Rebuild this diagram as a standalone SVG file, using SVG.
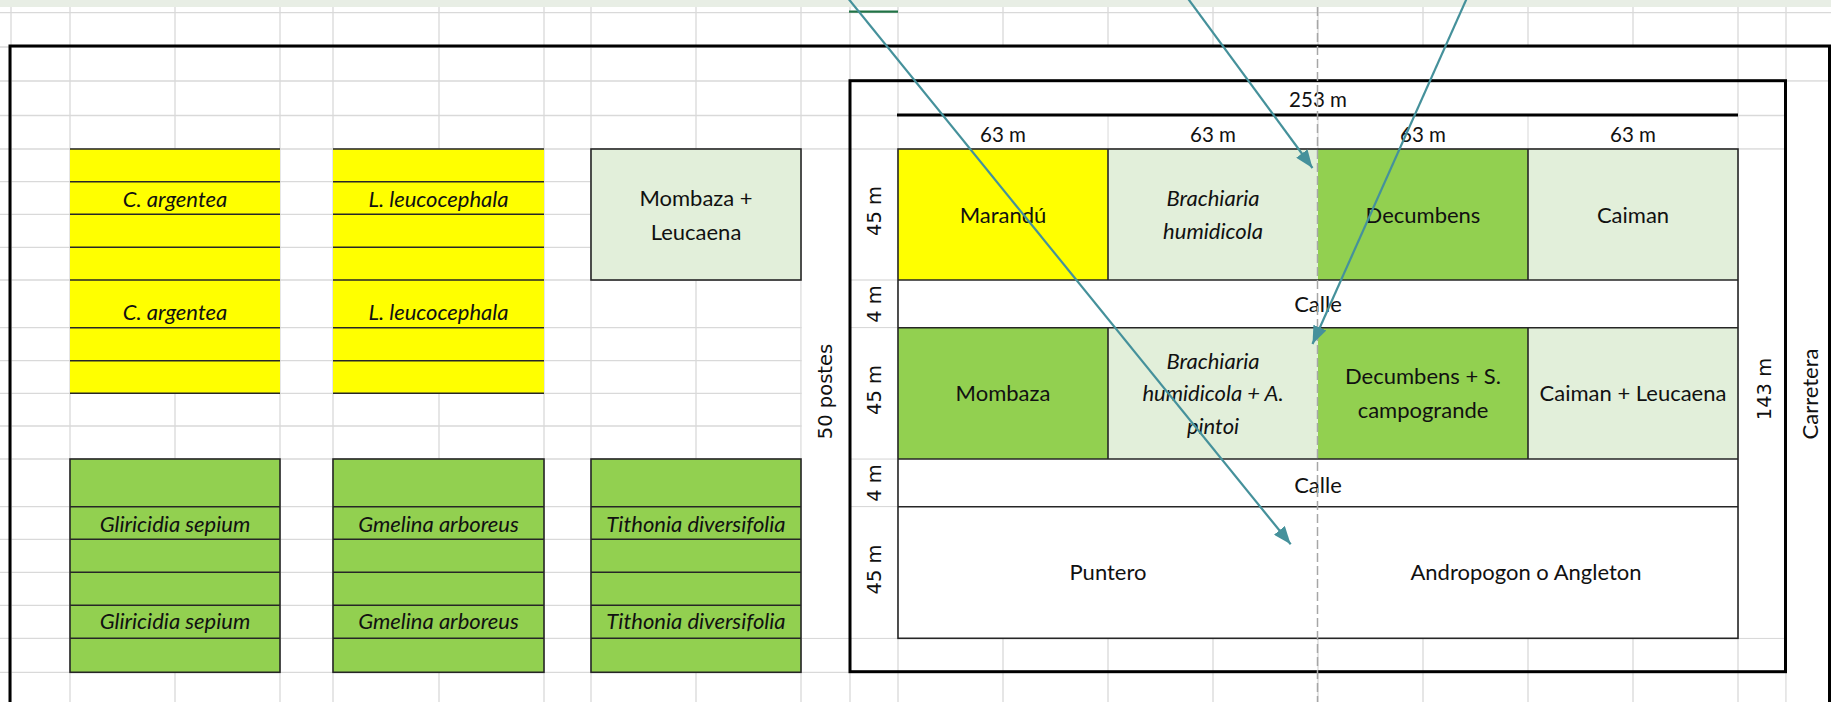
<svg xmlns="http://www.w3.org/2000/svg" width="1831" height="702" viewBox="0 0 1831 702">
<style>
.grid{stroke:#d9d9d9;stroke-width:1.3;fill:none}
.frame{fill:none;stroke:#000;stroke-width:3}
.bd{stroke:#262626;stroke-width:1.6;fill:none}
.w{fill:#fff}
.y{fill:#ffff00}
.g{fill:#92d050}
.lg{fill:#e2efda}
.t{font-family:Lato,"Liberation Sans",sans-serif;font-size:22px;fill:#111;text-anchor:middle}
.n{font-size:20.5px}
.i{font-style:italic}
.r{font-family:"DejaVu Sans","Liberation Sans",sans-serif;font-size:19.5px;fill:#111;text-anchor:middle}
.conn{stroke:#45919b;stroke-width:2.2;fill:none;marker-end:url(#ah)}
.dash{stroke:#a6a6a6;stroke-width:1.5;stroke-dasharray:9 4;fill:none}
</style>
<defs>
<marker id="ah" markerUnits="userSpaceOnUse" markerWidth="18" markerHeight="14" viewBox="0 0 18 14" refX="18" refY="7" orient="auto">
<path d="M0,0 L18,7 L0,14 z" fill="#45919b"/>
</marker>
</defs>
<rect x="0" y="0" width="1831" height="702" fill="#fff"/>
<rect x="0" y="0" width="1831" height="7" fill="#e8eee5"/>
<g id="grid">
<path class="grid" d="M11 7V702M70 7V702M175 7V702M280 7V702M333 7V702M439 7V702M544 7V702M591 7V702M696 7V702M801 7V702M850 7V702M898 7V702M1003 7V702M1108 7V702M1213 7V702M1318 7V702M1423 7V702M1528 7V702M1633 7V702M1738 7V702M1786 7V702"/>
<path class="grid" d="M0 12.7H1831M0 47H1831M0 81H1831M0 115.5H1831M0 149H1831M0 181.7H1831M0 214.3H1831M0 247.3H1831M0 280H1831M0 327.7H1831M0 360.7H1831M0 393.3H1831M0 426H1831M0 459H1831M0 506.7H1831M0 539.3H1831M0 572.3H1831M0 605.3H1831M0 638.3H1831M0 672.3H1831"/>
<line x1="849" y1="11.7" x2="898" y2="11.7" stroke="#217346" stroke-width="2.2"/>
</g>
<g id="merged-white">
<rect class="w" x="899" y="47.8" width="838" height="32.5"/>
<rect class="w" x="899" y="82" width="838" height="32.5"/>
<rect class="w" x="899" y="116.3" width="208.3" height="32"/>
<rect class="w" x="1108.8" y="116.3" width="208.4" height="32"/>
<rect class="w" x="1318.8" y="116.3" width="208.4" height="32"/>
<rect class="w" x="1528.8" y="116.3" width="208.4" height="32"/>
<rect class="w" x="851" y="150" width="46.2" height="129.2"/>
<rect class="w" x="851" y="280.8" width="46.2" height="46.2"/>
<rect class="w" x="851" y="328.5" width="46.2" height="129.8"/>
<rect class="w" x="851" y="459.8" width="46.2" height="46.2"/>
<rect class="w" x="851" y="507.5" width="46.2" height="130"/>
<rect class="w" x="801.8" y="149.8" width="47.4" height="487.8"/>
<rect class="w" x="1738.8" y="149.8" width="46.4" height="487.8"/>
<rect class="w" x="1786.8" y="81.8" width="44" height="620.2"/>
</g>
<g id="frames">
<rect class="frame" x="10" y="46" width="1819.5" height="700"/>
<rect class="frame" x="850" y="80.7" width="935.5" height="591"/>
<line x1="897" y1="115" x2="1738" y2="115" stroke="#000" stroke-width="3"/>
</g>
<g id="box-c-argentea">
<rect class="y" x="70" y="149" width="210" height="244.3"/>
<path class="bd" d="M70 149H280M70 181.7H280M70 214.3H280M70 247.3H280M70 280H280M70 327.7H280M70 360.7H280M70 393.3H280"/>
<text class="t i" x="175" y="207">C. argentea</text>
<text class="t i" x="175" y="320">C. argentea</text>
</g>
<g id="box-l-leucocephala">
<rect class="y" x="333" y="149" width="211" height="244.3"/>
<path class="bd" d="M333 149H544M333 181.7H544M333 214.3H544M333 247.3H544M333 280H544M333 327.7H544M333 360.7H544M333 393.3H544"/>
<text class="t i" x="438.5" y="207">L. leucocephala</text>
<text class="t i" x="438.5" y="320">L. leucocephala</text>
</g>
<g id="box-mombaza-leucaena">
<rect class="lg bd" x="591" y="149" width="210" height="131" stroke="#262626"/>
<text class="t" x="696" y="205.5">Mombaza +</text>
<text class="t" x="696" y="239.5">Leucaena</text>
</g>
<g id="box-gliricidia">
<rect class="g" x="70" y="459" width="210" height="213.3"/>
<rect class="bd" x="70" y="459" width="210" height="213.3"/>
<path class="bd" d="M70 506.7H280M70 539.3H280M70 572.3H280M70 605.3H280M70 638.3H280"/>
<text class="t i" x="175" y="531.5">Gliricidia sepium</text>
<text class="t i" x="175" y="629">Gliricidia sepium</text>
</g>
<g id="box-gmelina">
<rect class="g" x="333" y="459" width="211" height="213.3"/>
<rect class="bd" x="333" y="459" width="211" height="213.3"/>
<path class="bd" d="M333 506.7H544M333 539.3H544M333 572.3H544M333 605.3H544M333 638.3H544"/>
<text class="t i" x="438.5" y="531.5">Gmelina arboreus</text>
<text class="t i" x="438.5" y="629">Gmelina arboreus</text>
</g>
<g id="box-tithonia">
<rect class="g" x="591" y="459" width="210" height="213.3"/>
<rect class="bd" x="591" y="459" width="210" height="213.3"/>
<path class="bd" d="M591 506.7H801M591 539.3H801M591 572.3H801M591 605.3H801M591 638.3H801"/>
<text class="t i" x="696" y="531.5">Tithonia diversifolia</text>
<text class="t i" x="696" y="629">Tithonia diversifolia</text>
</g>
<g id="dimensions">
<text class="t n" x="1318" y="107">253 m</text>
<text class="t n" x="1003" y="142">63 m</text>
<text class="t n" x="1213" y="142">63 m</text>
<text class="t n" x="1423" y="142">63 m</text>
<text class="t n" x="1633" y="142">63 m</text>
<text class="r" transform="translate(873.5 211) rotate(-90)" dy="0.36em">45 m</text>
<text class="r" transform="translate(873.5 304) rotate(-90)" dy="0.36em">4 m</text>
<text class="r" transform="translate(873.5 390) rotate(-90)" dy="0.36em">45 m</text>
<text class="r" transform="translate(873.5 483) rotate(-90)" dy="0.36em">4 m</text>
<text class="r" transform="translate(873.5 569.5) rotate(-90)" dy="0.36em">45 m</text>
<text class="r" transform="translate(825 391.5) rotate(-90)" dy="0.36em">50 postes</text>
<text class="r" transform="translate(1763.5 389) rotate(-90)" dy="0.36em">143 m</text>
<text class="t" transform="translate(1810 394) rotate(-90)" dy="0.36em">Carretera</text>
</g>
<g id="plot-marandu">
<rect class="y" x="898" y="149" width="210" height="131"/>
<text class="t" x="1003" y="222.5">Marandú</text>
</g>
<g id="plot-brachiaria">
<rect class="lg" x="1108" y="149" width="210" height="131"/>
<text class="t i" x="1213" y="205.8">Brachiaria</text>
<text class="t i" x="1213" y="239.2">humidicola</text>
</g>
<g id="plot-decumbens">
<rect class="g" x="1318" y="149" width="210" height="131"/>
<text class="t" x="1423" y="222.5">Decumbens</text>
</g>
<g id="plot-caiman">
<rect class="lg" x="1528" y="149" width="210" height="131"/>
<text class="t" x="1633" y="222.5">Caiman</text>
</g>
<g id="plot-calle-1">
<rect class="w" x="898" y="280" width="840" height="47.7"/>
<text class="t" x="1318" y="311.8">Calle</text>
</g>
<g id="plot-mombaza">
<rect class="g" x="898" y="327.7" width="210" height="131.3"/>
<text class="t" x="1003" y="400.8">Mombaza</text>
</g>
<g id="plot-brachiaria-pintoi">
<rect class="lg" x="1108" y="327.7" width="210" height="131.3"/>
<text class="t i" x="1213" y="369.2">Brachiaria</text>
<text class="t i" x="1213" y="400.8">humidicola + A.</text>
<text class="t i" x="1213" y="434.2">pintoi</text>
</g>
<g id="plot-decumbens-campogrande">
<rect class="g" x="1318" y="327.7" width="210" height="131.3"/>
<text class="t" x="1423" y="384.2">Decumbens + S.</text>
<text class="t" x="1423" y="417.5">campogrande</text>
</g>
<g id="plot-caiman-leucaena">
<rect class="lg" x="1528" y="327.7" width="210" height="131.3"/>
<text class="t" x="1633" y="400.8">Caiman + Leucaena</text>
</g>
<g id="plot-calle-2">
<rect class="w" x="898" y="459" width="840" height="47.7"/>
<text class="t" x="1318" y="492.5">Calle</text>
</g>
<g id="plot-puntero">
<rect class="w" x="898" y="506.7" width="420" height="131.6"/>
<text class="t" x="1108" y="580.2">Puntero</text>
</g>
<g id="plot-andropogon">
<rect class="w" x="1318" y="506.7" width="420" height="131.6"/>
<text class="t" x="1526" y="580.2">Andropogon o Angleton</text>
</g>
<g id="plot-borders">
<rect class="bd" x="898" y="149" width="840" height="489.3"/>
<path class="bd" d="M898 280H1738M898 327.7H1738M898 459H1738M898 506.7H1738M1108 149V280M1528 149V280M1108 327.7V459M1528 327.7V459"/>
</g>
<line class="dash" x1="1317.5" y1="7" x2="1317.5" y2="702"/>
<g id="connectors">
<line class="conn" x1="847" y1="-3" x2="1290.7" y2="544.3"/>
<line class="conn" x1="1186.8" y1="-3" x2="1312.5" y2="168"/>
<line class="conn" x1="1467.4" y1="-3" x2="1312.5" y2="344"/>
</g>
</svg>
